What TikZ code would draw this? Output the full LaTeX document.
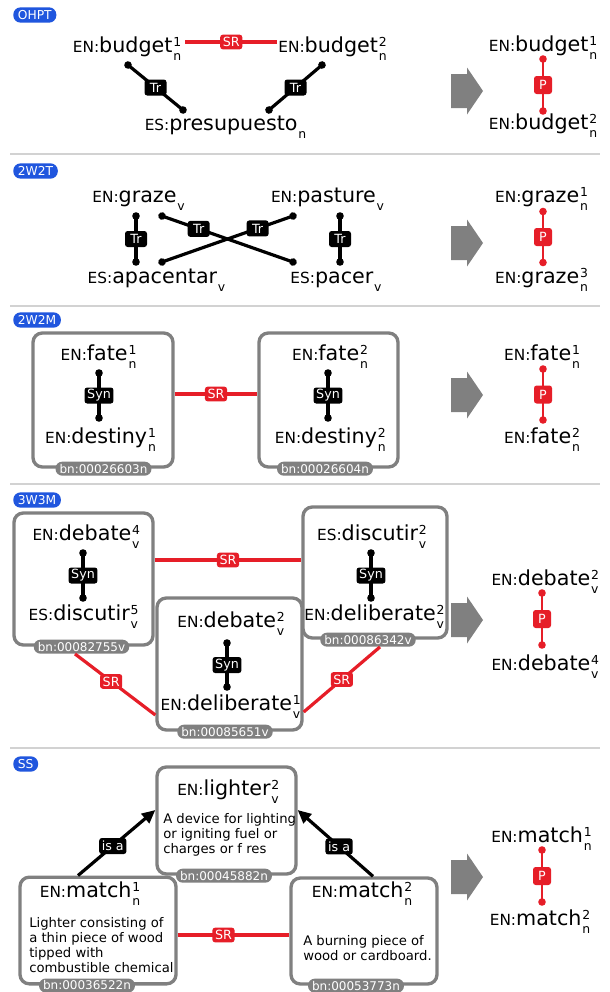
\documentclass[tikz,border=0pt]{standalone}
\usepackage{fontspec}
\setmainfont{DejaVu Sans}
\usetikzlibrary{arrows.meta,calc}

\definecolor{srred}{RGB}{230,30,40}
\definecolor{tagblue}{RGB}{32,86,222}
\definecolor{boxgray}{RGB}{128,128,128}
\definecolor{sepgray}{RGB}{210,210,210}

\newcommand{\wordfont}{\fontsize{15.5}{18}\selectfont}
\newcommand{\langfont}{\fontsize{11.5}{13}\selectfont}
\newcommand{\idxfont}{\fontsize{9.3}{11}\selectfont}
\newcommand{\descfont}{\fontsize{9.9}{11.25}\selectfont}
\newcommand{\bnfont}{\fontsize{9}{10}\selectfont}
\newcommand{\lblfont}{\fontsize{9.5}{10}\selectfont}
\newcommand{\tagfont}{\fontsize{9.2}{10}\selectfont}
\newcommand{\wsense}[4]{{\langfont #1:}#2{\idxfont\kern0.6pt\rlap{\raisebox{4.5pt}{#3}}\raisebox{-6pt}{#4}}}

\begin{document}
\begin{tikzpicture}[x=0.75pt, y=-0.75pt,
    word/.style={font=\wordfont, inner sep=0pt, anchor=base},
    tag/.style={fill=tagblue, text=white, font=\tagfont, rounded corners=5.5pt, inner xsep=3.5pt, inner ysep=0pt, minimum height=11.5pt, anchor=west},
    sep/.style={draw=sepgray, line width=1.5pt},
    bigarrow/.style={fill=boxgray},
    synset/.style={draw=boxgray, line width=2.5pt, rounded corners=7pt},
    bn/.style={fill=boxgray, text=white, font=\bnfont, rounded corners=5pt, inner xsep=3pt, inner ysep=0pt, minimum height=10.5pt},
    blbl/.style={fill=black, text=white, font=\lblfont, rounded corners=2pt, inner xsep=2pt, inner ysep=0pt, minimum height=12pt},
    trlbl/.style={blbl, minimum width=16.5pt},
    srlbl/.style={blbl, fill=srred, minimum height=11pt},
    plbl/.style={blbl, fill=srred, minimum width=13.5pt, minimum height=13.5pt, inner xsep=0pt},
    trline/.style={draw=black, line width=2.4pt, arrows={Circle[length=5.5pt]-Circle[length=5.5pt]}, shorten <=-2.75pt, shorten >=-2.75pt},
    pline/.style={trline, draw=srred, line width=2.2pt},
    srline/.style={draw=srred, line width=2.4pt},
    isa/.style={draw=black, line width=2.4pt, -{Triangle[length=10pt,width=9pt]}},
    desc/.style={font=\descfont, align=left, inner sep=0pt, anchor=north west}
  ]
  \useasboundingbox (0,0) rectangle (610,992);
  \fill[white] (0,0) rectangle (610,992);

  \foreach \y in {154,306,484,748}
    \draw[sep] (10,\y) -- (600,\y);
  \foreach \y in {91,243,395,620,877}
    \fill[bigarrow] (451,\y-17) -- (467,\y-17) -- (467,\y-23.5) -- (483,\y) -- (467,\y+23.5) -- (467,\y+17) -- (451,\y+17) -- cycle;

  \node[tag] (tag1) at (13,15) {OHPT};
  \node[tag] (tag2) at (13,171) {2W2T};
  \node[tag] (tag3) at (13,320) {2W2M};
  \node[tag] (tag4) at (13,500) {3W3M};
  \node[tag] (tag5) at (13,764) {SS};

  \node[word] (budget1) at (127,52) {\wsense{EN}{budget}{1}{n}};
  \node[word] (budget2) at (332.5,52) {\wsense{EN}{budget}{2}{n}};
  \node[word] (presupuesto) at (225.5,130) {\wsense{ES}{presupuesto}{}{n}};
  \draw[srline] ($(budget1.base east)+(4,-10)$) -- ($(budget2.base west)+(-1,-10)$) node[midway, srlbl] (sr1) {SR};
  \draw[trline] ($(budget1.base)+(1,13)$) -- ($(presupuesto.base)+(-42.5,-20)$) node[midway, trlbl] (tr1) {Tr};
  \draw[trline] ($(budget2.base)+(-10.5,13)$) -- ($(presupuesto.base)+(43.5,-20)$) node[midway, trlbl] (tr2) {Tr};
  \node[word] (rbudget1) at (543,51) {\wsense{EN}{budget}{1}{n}};
  \node[word] (rbudget2) at (543,129) {\wsense{EN}{budget}{2}{n}};
  \draw[pline] ($(rbudget1.base)+(0,8)$) -- ($(rbudget2.base)+(0,-18)$) node[midway, plbl] (p1) {P};

  \node[word] (graze) at (138.5,202) {\wsense{EN}{graze}{}{v}};
  \node[word] (pasture) at (327.5,202) {\wsense{EN}{pasture}{}{v}};
  \node[word] (apacentar) at (156.5,283) {\wsense{ES}{apacentar}{}{v}};
  \node[word] (pacer) at (336,283) {\wsense{ES}{pacer}{}{v}};
  \draw[trline] ($(graze.base)+(-2.5,14)$) -- ($(apacentar.base)+(-20.5,-21)$) node[midway, trlbl] (tr3) {Tr};
  \draw[trline] ($(pasture.base)+(12.5,14)$) -- ($(pacer.base)+(4,-21)$) node[midway, trlbl] (tr4) {Tr};
  \draw[trline] ($(graze.base)+(23.5,14)$) -- ($(pacer.base)+(-43,-21)$) node[pos=.28, trlbl] (tr5) {Tr};
  \draw[trline] ($(pasture.base)+(-34.5,14)$) -- ($(apacentar.base)+(5.5,-21)$) node[pos=.27, trlbl] (tr6) {Tr};
  \node[word] (rgraze1) at (541.5,202) {\wsense{EN}{graze}{1}{n}};
  \node[word] (rgraze3) at (541.5,283) {\wsense{EN}{graze}{3}{n}};
  \draw[pline] ($(rgraze1.base)+(1.5,9.5)$) -- ($(rgraze3.base)+(1.5,-20.5)$) node[midway, plbl] (p2) {P};

  \node[synset, minimum width=105pt, minimum height=100.5pt] (fate1box) at (103,400) {};
  \node[bn] (fate1bn) at ($(fate1box.south)+(0.5,0)$) {bn:00026603n};
  \node[word] (fate1) at (98.5,360) {\wsense{EN}{fate}{1}{n}};
  \node[word] (destiny1) at (100.5,443) {\wsense{EN}{destiny}{1}{n}};
  \draw[trline] ($(fate1.base)+(0.5,13)$) -- ($(destiny1.base)+(-1.5,-25)$) node[midway, blbl] (syn1) {Syn};
  \node[synset, minimum width=104.25pt, minimum height=100.5pt] (fate2box) at (328.5,400) {};
  \node[bn] (fate2bn) at ($(fate2box.south)+(-3.5,0)$) {bn:00026604n};
  \node[word] (fate2) at (330,360) {\wsense{EN}{fate}{2}{n}};
  \node[word] (destiny2) at (330.3,443) {\wsense{EN}{destiny}{2}{n}};
  \draw[trline] ($(fate2.base)+(-2,13)$) -- ($(destiny2.base)+(-2.3,-25)$) node[midway, blbl] (syn2) {Syn};
  \draw[srline] ($(fate1box.east)+(0,-6)$) -- ($(fate2box.west)+(0,-6)$) node[midway, srlbl] (sr2) {SR};
  \node[word] (rfate1) at (542,360) {\wsense{EN}{fate}{1}{n}};
  \node[word] (rfate2) at (542,443) {\wsense{EN}{fate}{2}{n}};
  \draw[pline] ($(rfate1.base)+(1,9)$) -- ($(rfate2.base)+(1,-23)$) node[midway, plbl] (p3) {P};

  \node[synset, minimum width=104.25pt, minimum height=99pt] (debate4box) at (83.5,579) {};
  \node[bn] (debate4bn) at ($(debate4box.south)+(-2,0)$) {bn:00082755v};
  \node[synset, minimum width=108.75pt, minimum height=99pt] (debate2box) at (229.5,664) {};
  \node[bn] (debate2bn) at ($(debate2box.south)+(-4.5,0)$) {bn:00085651v};
  \node[synset, minimum width=108pt, minimum height=98.25pt] (discutir2box) at (375,572.5) {};
  \node[bn] (discutir2bn) at ($(discutir2box.south)+(-7,0)$) {bn:00086342v};
  \node[word] (debate4) at (86,540) {\wsense{EN}{debate}{4}{v}};
  \node[word] (discutir5) at (83.3,620) {\wsense{ES}{discutir}{5}{v}};
  \draw[trline] ($(debate4.base)+(-3,13)$) -- ($(discutir5.base)+(-0.3,-22)$) node[midway, blbl] (syn3) {Syn};
  \node[word] (debate2) at (230.8,627) {\wsense{EN}{debate}{2}{v}};
  \node[word] (deliberate1) at (230.5,710) {\wsense{EN}{deliberate}{1}{v}};
  \draw[trline] ($(debate2.base)+(-3.8,16)$) -- ($(deliberate1.base)+(-3.5,-23)$) node[midway, blbl] (syn4) {Syn};
  \node[word] (discutir2) at (371.7,540) {\wsense{ES}{discutir}{2}{v}};
  \node[word] (deliberate2) at (374.2,620) {\wsense{EN}{deliberate}{2}{v}};
  \draw[trline] ($(discutir2.base)+(-0.7,13)$) -- ($(deliberate2.base)+(-3.2,-22)$) node[midway, blbl] (syn5) {Syn};
  \draw[srline] ($(debate4box.east)+(0,-19)$) -- ($(discutir2box.west)+(0,-12.5)$) node[midway, srlbl] (sr3) {SR};
  \draw[srline] ($(debate4bn.south)+(-6.5,0)$) -- ($(debate2box.west)+(0,51)$) node[pos=.45, srlbl] (sr4) {SR};
  \draw[srline] ($(discutir2bn.south)+(12,0)$) -- ($(debate2box.east)+(0,48)$) node[midway, srlbl] (sr5) {SR};
  \node[word] (rdebate2) at (545,585) {\wsense{EN}{debate}{2}{v}};
  \node[word] (rdebate4) at (545,670) {\wsense{EN}{debate}{4}{v}};
  \draw[pline] ($(rdebate2.base)+(-3,8)$) -- ($(rdebate4.base)+(-3,-25)$) node[midway, plbl] (p4) {P};

  \node[synset, minimum width=104.25pt, minimum height=80.25pt] (lighterbox) at (226.5,820.5) {};
  \node[bn] (lighterbn) at ($(lighterbox.south)+(-2.5,0)$) {bn:00045882n};
  \node[synset, minimum width=117pt, minimum height=80pt] (match1box) at (98,930.5) {};
  \node[bn] (match1bn) at ($(match1box.south)+(-11,0)$) {bn:00036522n};
  \node[synset, minimum width=109.5pt, minimum height=79.5pt] (match2box) at (364,931) {};
  \node[bn] (match2bn) at ($(match2box.south)+(-8,0)$) {bn:00053773n};
  \node[word] (lighter) at (228,795) {\wsense{EN}{lighter}{2}{v}};
  \node[desc] (lighterdesc) at (163,813) {A device for lighting\\or igniting fuel or\\charges or f res};
  \node[word] (match1) at (90,897) {\wsense{EN}{match}{1}{n}};
  \node[desc] (match1desc) at (29,917) {Lighter consisting of\\a thin piece of wood\\tipped with\\combustible chemical};
  \node[word] (match2) at (362,897) {\wsense{EN}{match}{2}{n}};
  \node[desc] (match2desc) at (303,935) {A burning piece of\\wood or cardboard.};
  \draw[isa] ($(match1box.north)+(-20,0)$) -- ($(lighterbox.west)+(0,-10.5)$) node[pos=.45, blbl] (isa1) {is a};
  \draw[isa] ($(match2box.north)+(9,0)$) -- ($(lighterbox.east)+(0,-10.5)$) node[pos=.45, blbl] (isa2) {is a};
  \draw[srline] ($(match1box.east)+(0,4.5)$) -- ($(match2box.west)+(0,4)$) node[pos=.41, srlbl] (sr6) {SR};
  \node[word] (rmatch1) at (541.5,842) {\wsense{EN}{match}{1}{n}};
  \node[word] (rmatch2) at (540,925) {\wsense{EN}{match}{2}{n}};
  \draw[pline] ($(rmatch1.base)+(0.5,8)$) -- ($(rmatch2.base)+(2,-23)$) node[midway, plbl] (p5) {P};
\end{tikzpicture}
\end{document}
